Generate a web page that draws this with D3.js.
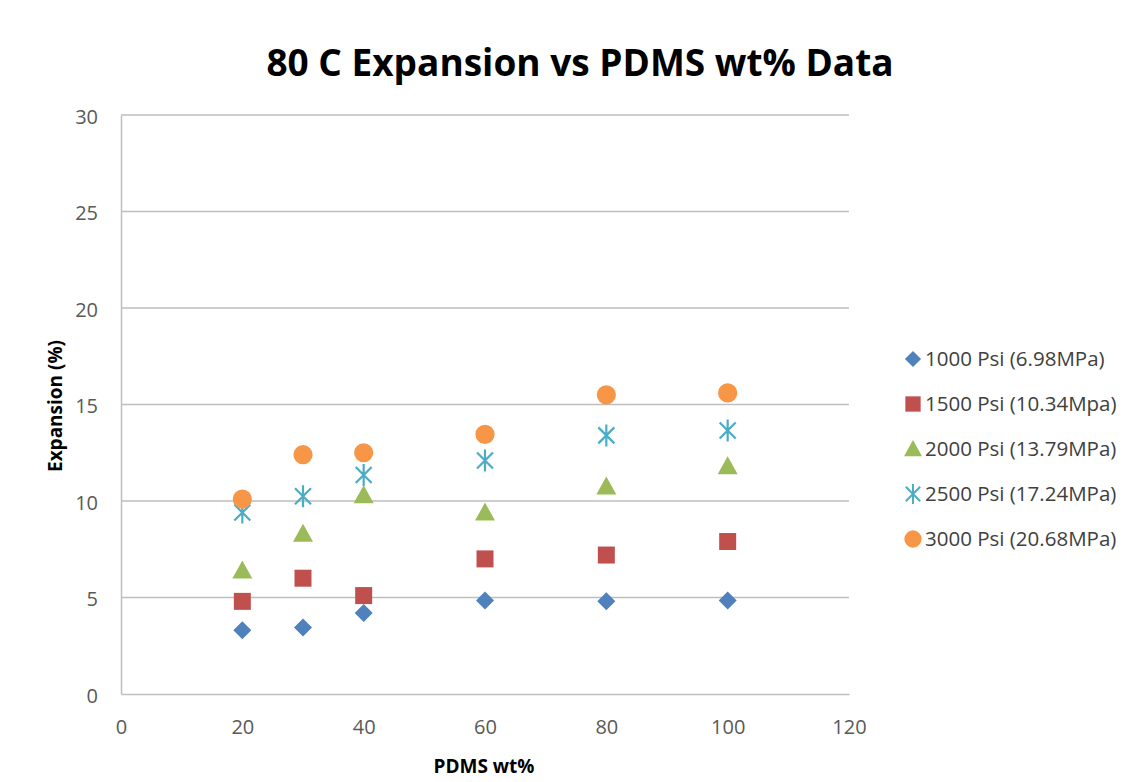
<!DOCTYPE html>
<html>
<head>
<meta charset="utf-8">
<script src="https://cdn.jsdelivr.net/npm/d3@7"></script>
<style>
  html, body { margin: 0; padding: 0; background: #fff; }
  svg { display: block; }
</style>
</head>
<body>
<svg id="chart" width="1135" height="782"></svg>
<script>
// PDMS content (wt%) of the tested samples
const pdms = [20, 30, 40, 60, 80, 100];

// Expansion (%) at 80 C for each pressure level
const exp1000 = [3.3, 3.45, 4.2, 4.85, 4.8, 4.85];
const exp1500 = [4.8, 6.0, 5.1, 7.0, 7.2, 7.9];
const exp2000 = [6.4, 8.3, 10.3, 9.4, 10.75, 11.8];
const exp2500 = [9.4, 10.25, 11.35, 12.1, 13.4, 13.65];
const exp3000 = [10.1, 12.4, 12.5, 13.45, 15.5, 15.6];

const seriesNames = [
  "1000 Psi (6.98MPa)",
  "1500 Psi (10.34Mpa)",
  "2000 Psi (13.79MPa)",
  "2500 Psi (17.24MPa)",
  "3000 Psi (20.68MPa)"
];

const xTicks = [0, 20, 40, 60, 80, 100, 120];
const yTicks = [0, 5, 10, 15, 20, 25, 30];

const series = [
  { name: seriesNames[0], values: exp1000, shape: "diamond",  color: "#4F81BD" },
  { name: seriesNames[1], values: exp1500, shape: "square",   color: "#C0504D" },
  { name: seriesNames[2], values: exp2000, shape: "triangle", color: "#9BBB59" },
  { name: seriesNames[3], values: exp2500, shape: "star",     color: "#4BACC6" },
  { name: seriesNames[4], values: exp3000, shape: "circle",   color: "#F79646" }
];

const svg = d3.select("#chart");
const font = "'Open Sans', 'Noto Sans', sans-serif";

const plot = { left: 121, right: 849, top: 115, bottom: 694 };

const x = d3.scaleLinear().domain([0, 120]).range([plot.left, plot.right]);
const y = d3.scaleLinear().domain([0, 30]).range([plot.bottom, plot.top]);

// horizontal gridlines
svg.append("g")
  .selectAll("line")
  .data(yTicks.filter(t => t > 0))
  .join("line")
  .attr("x1", plot.left).attr("x2", plot.right)
  .attr("y1", d => y(d)).attr("y2", d => y(d))
  .attr("stroke", "#BEBEBE").attr("stroke-width", 1.5);

// y axis
const yAxis = svg.append("g")
  .attr("transform", `translate(${plot.left},0)`)
  .call(d3.axisLeft(y).tickValues(yTicks).tickSize(0).tickPadding(23));
yAxis.select(".domain").attr("stroke", "#BEBEBE").attr("stroke-width", 1.5);
yAxis.selectAll("text")
  .attr("font-family", font).attr("font-size", 20).attr("fill", "#595959")
  .attr("dy", "0.4em");

// x axis
const xAxis = svg.append("g")
  .attr("transform", `translate(0,${plot.bottom})`)
  .call(d3.axisBottom(x).tickValues(xTicks).tickSize(0).tickPadding(26));
xAxis.select(".domain").attr("stroke", "#BEBEBE").attr("stroke-width", 1.5);
xAxis.selectAll("text")
  .attr("font-family", font).attr("font-size", 20).attr("fill", "#595959");

// marker shapes
function markerPath(shape) {
  switch (shape) {
    case "diamond":  return "M0,-9L9,0L0,9L-9,0Z";
    case "square":   return "M-8.5,-8.5H8.5V8.5H-8.5Z";
    case "triangle": return "M0,-10L10,8L-10,8Z";
    case "circle":   return d3.symbol(d3.symbolCircle, 290)();
    case "star":     return "M-8,-8L8,8M-8,8L8,-8M0,-11V11";
  }
}

function drawMarker(g, shape, color) {
  const p = g.append("path").attr("d", markerPath(shape));
  if (shape === "star") {
    p.attr("fill", "none").attr("stroke", color).attr("stroke-width", 2.2);
  } else {
    p.attr("fill", color);
  }
}

// data points
series.forEach(s => {
  const g = svg.append("g");
  g.selectAll("g")
    .data(s.values.map((v, i) => ({ x: pdms[i], y: v })))
    .join("g")
    .attr("transform", d => `translate(${x(d.x)},${y(d.y)})`)
    .each(function () { drawMarker(d3.select(this), s.shape, s.color); });
});

// legend
const legend = svg.append("g").attr("transform", "translate(913,359)");
series.forEach((s, i) => {
  const row = legend.append("g").attr("transform", `translate(0,${i * 45})`);
  const m = row.append("g").attr("transform", "scale(0.9)");
  drawMarker(m, s.shape, s.color);
  row.append("text")
    .attr("x", 12).attr("y", 0).attr("dy", "0.36em")
    .attr("font-family", font).attr("font-size", 20.5).attr("fill", "#404040")
    .text(s.name);
});

// title
svg.append("text")
  .attr("x", 580).attr("y", 76)
  .attr("text-anchor", "middle")
  .attr("font-family", font).attr("font-weight", "bold").attr("font-size", 37)
  .attr("fill", "#000")
  .text("80 C Expansion vs PDMS wt% Data");

// axis titles
svg.append("text")
  .attr("transform", "translate(62,406) rotate(-90)")
  .attr("text-anchor", "middle")
  .attr("font-family", font).attr("font-weight", "bold").attr("font-size", 19)
  .attr("fill", "#000")
  .text("Expansion (%)");

svg.append("text")
  .attr("x", 484).attr("y", 773)
  .attr("text-anchor", "middle")
  .attr("font-family", font).attr("font-weight", "bold").attr("font-size", 19)
  .attr("fill", "#000")
  .text("PDMS wt%");
</script>
</body>
</html>
